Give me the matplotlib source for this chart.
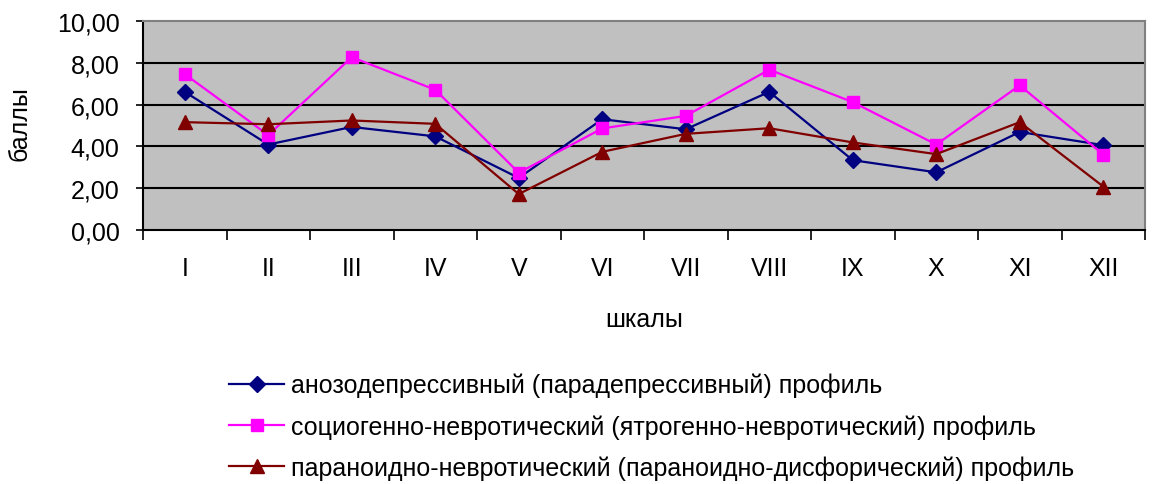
import matplotlib
matplotlib.use("Agg")
import matplotlib.pyplot as plt

plt.rcParams['font.family'] = ['Liberation Sans', 'DejaVu Sans']

scales = ['I', 'II', 'III', 'IV', 'V', 'VI', 'VII', 'VIII', 'IX', 'X', 'XI', 'XII']

# anozodepressive profile
anozo = [6.61, 4.09, 4.93, 4.48, 2.49, 5.30, 4.82, 6.61, 3.34, 2.76, 4.69, 4.06]
# sociogenic-neurotic profile
socio = [7.46, 4.54, 8.27, 6.71, 2.74, 4.86, 5.46, 7.67, 6.12, 4.09, 6.92, 3.61]
# paranoid-neurotic profile
paran = [5.16, 5.06, 5.24, 5.08, 1.72, 3.74, 4.60, 4.87, 4.19, 3.63, 5.16, 2.08]

labels = ['анозодепрессивный (парадепрессивный) профиль',
          'социогенно-невротический (ятрогенно-невротический) профиль',
          'параноидно-невротический (параноидно-дисфорический) профиль']

fig = plt.figure(figsize=(11.76, 4.85), dpi=100)
ax = fig.add_axes([143 / 1176, 1 - 231 / 485, 1002 / 1176, 209 / 485])
ax.set_facecolor('#C0C0C0')

x = list(range(1, len(scales) + 1))
ax.plot(x, anozo, color='#000080', marker='D', markersize=8, lw=1.6, label=labels[0], zorder=3)
ax.plot(x, socio, color='#FF00FF', marker='s', markersize=8.5, lw=1.6, label=labels[1], zorder=3)
ax.plot(x, paran, color='#800000', marker='^', markersize=10, lw=1.6, label=labels[2], zorder=3)

ax.set_xlim(0.5, 12.5)
ax.set_ylim(0, 10)
ax.set_yticks([0, 2, 4, 6, 8, 10])
ax.set_yticklabels(['0,00', '2,00', '4,00', '6,00', '8,00', '10,00'], fontsize=18)
for yv in [2, 4, 6, 8]:
    ax.axhline(yv, color='black', lw=1.5, zorder=1)

ax.set_xticks(x)
ax.set_xticklabels(scales, fontsize=18)
ax.set_xticks([i + 0.5 for i in range(0, 13)], minor=True)
ax.tick_params(axis='x', which='major', length=0, pad=19)
ax.tick_params(axis='x', which='minor', length=7, width=1.2, direction='out')
ax.tick_params(axis='y', length=5, width=1.2, direction='out', pad=12)

for side in ['top', 'right']:
    ax.spines[side].set_color('#808080')
    ax.spines[side].set_linewidth(1.5)
for side in ['left', 'bottom']:
    ax.spines[side].set_color('black')
    ax.spines[side].set_linewidth(1.5)

ax.set_xlabel('шкалы', fontsize=18, labelpad=19)

fig.text(20 / 1176, 1 - 161 / 485, 'баллы', rotation=90, fontsize=18,
         ha='center', va='bottom')

fig.legend(loc='upper left', bbox_to_anchor=(229 / 1176, 1 - 374 / 485), frameon=False,
           fontsize=18, handlelength=2.2, handletextpad=0.28, labelspacing=0.67,
           borderpad=0, borderaxespad=0)

fig.savefig('out.png', dpi=100)
